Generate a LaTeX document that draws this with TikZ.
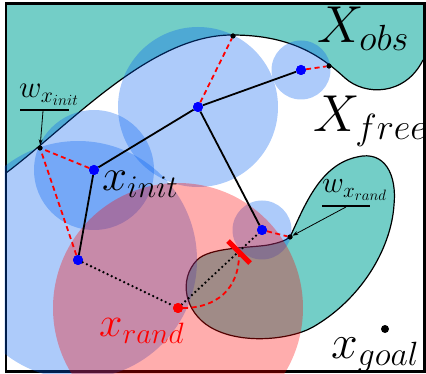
\RequirePackage{fix-cm}
\documentclass[tikz,border=0pt]{standalone}
\usetikzlibrary{arrows.meta}
\definecolor{obsc}{RGB}{115,206,199}
\definecolor{cblue}{RGB}{0,94,240}
\begin{document}
\begin{tikzpicture}[x=1pt,y=-1pt,
  tree/.style={line width=1.8pt},
  wit/.style={draw=red, line width=1.8pt, dash pattern=on 5pt off 3.5pt},
  dotl/.style={line width=2.6pt, line cap=round, dash pattern=on 0pt off 4.6pt},
  vtx/.style={circle, fill=blue, inner sep=0pt, minimum size=10pt},
  rtx/.style={circle, fill=red, inner sep=0pt, minimum size=10pt},
  wpt/.style={circle, fill=black, inner sep=0pt, minimum size=5pt},
  gpt/.style={circle, fill=black, inner sep=0pt, minimum size=8pt},
  ball/.style={fill=cblue, fill opacity=0.32},
  rball/.style={fill=red, fill opacity=0.32},
  lbl/.style={inner sep=0pt, anchor=base west},
  ptr/.style={-{Stealth[length=6pt,width=4pt]}, line width=0.8pt},
  ubar/.style={line width=2pt}
]
\useasboundingbox (0,0) rectangle (426,374);
% obstacles
\begin{scope}
\clip (6,3.2) rectangle (424.7,371.5);
\fill[obsc] (6,173) .. controls (70,125) and (150,35) .. (232,35) .. controls (290,35) and (320,55) .. (345,78) .. controls (365,96) and (405,96) .. (423,60) -- (430,40) -- (430,0) -- (0,0) -- (0,173) -- cycle;
\draw[line width=1.2pt] (6,173) .. controls (70,125) and (150,35) .. (232,35) .. controls (290,35) and (320,55) .. (345,78) .. controls (365,96) and (405,96) .. (423,60);
\filldraw[fill=obsc, draw=black, line width=1.2pt] (290,237) .. controls (305,205) and (320,165) .. (357,157)
  .. controls (385,150) and (397,175) .. (394,205)
  .. controls (391,250) and (360,300) .. (313,327)
  .. controls (290,340) and (240,345) .. (210,327)
  .. controls (185,312) and (178,280) .. (197,260)
  .. controls (210,247) and (250,248) .. (268,245)
  .. controls (278,243) and (285,241) .. (290,237) -- cycle;
\end{scope}
\draw[line width=2.8pt] (6,3.2) rectangle (424.7,371.5);
% balls
\begin{scope}
\clip (4.6,1.8) rectangle (426,373);
\fill[ball] (198,107) circle (80pt);
\fill[ball] (94,170) circle (60pt);
\fill[ball] (78,260) circle (119pt);
\fill[ball] (301,70) circle (29.5pt);
\fill[ball] (262,230) circle (29.5pt);
\fill[rball] (178,308) circle (125pt);
\end{scope}
% points
\node[vtx] (xi) at (94,170) {};
\node[vtx] (n1) at (198,107) {};
\node[vtx] (n2) at (301,70) {};
\node[vtx] (n3) at (262,230) {};
\node[vtx] (xn) at (78,260) {};
\node[rtx] (xr) at (178,308) {};
\node[wpt] (wi) at (40,148) {};
\node[wpt] (w1) at (233,36) {};
\node[wpt] (w2) at (329,66) {};
\node[wpt] (wr) at (290,237) {};
\node[gpt] (xg) at (385,329) {};
\coordinate (bc) at (239,252);
% witness links
\draw[wit] (xi) -- (wi);
\draw[wit] (xn) -- (wi);
\draw[wit] (n1) -- (w1);
\draw[wit] (n2) -- (w2);
\draw[wit] (n3) -- (wr);
\draw[wit] (xr) .. controls (215,308) and (240,290) .. (bc);
% tree
\draw[tree] (xi) -- (n1);
\draw[tree] (n1) -- (n2);
\draw[tree] (n1) -- (n3);
\draw[tree] (xi) -- (xn);
% dotted
\draw[dotl] (xn) -- (xr);
\draw[dotl] (xr) -- (n3);
% red bar
\draw[red, line width=5pt] (228,241) -- (250,263);
% redraw points on top
\node[vtx] at (xi) {};
\node[vtx] at (n1) {};
\node[vtx] at (n2) {};
\node[vtx] at (n3) {};
\node[vtx] at (xn) {};
\node[rtx] at (xr) {};
\node[wpt] at (wi) {};
\node[wpt] at (w1) {};
\node[wpt] at (w2) {};
\node[wpt] at (wr) {};
% labels
\node[lbl] (lobs) at (317,43) {\fontsize{52}{52}\selectfont$X_{obs}$};
\node[lbl] (lfree) at (313,132) {\fontsize{52}{52}\selectfont$X_{free}$};
\node[lbl] (linit) at (102,191) {\fontsize{45}{45}\selectfont$x_{init}$};
\node[lbl, text=red] (lrand) at (99,337) {\fontsize{42}{42}\selectfont$x_{rand}$};
\node[lbl] (lgoal) at (331,358) {\fontsize{48}{48}\selectfont$x_{goal}$};
\node[lbl] (lwi) at (19,98) {\fontsize{31}{31}\selectfont$w_{x_{init}}$};
\node[lbl] (lwr) at (322,193) {\fontsize{30}{30}\selectfont$w_{x_{rand}}$};
% label bars and pointers
\coordinate (bi1) at (20,110);
\coordinate (bi2) at (69,110);
\coordinate (bim) at (43,111);
\coordinate (br1) at (322,206);
\coordinate (br2) at (370,206);
\coordinate (brm) at (346,207);
\draw[ubar] (bi1) -- (bi2);
\draw[ubar] (br1) -- (br2);
\draw[ptr] (bim) -- (wi);
\draw[ptr] (brm) -- (wr);
\end{tikzpicture}
\end{document}
